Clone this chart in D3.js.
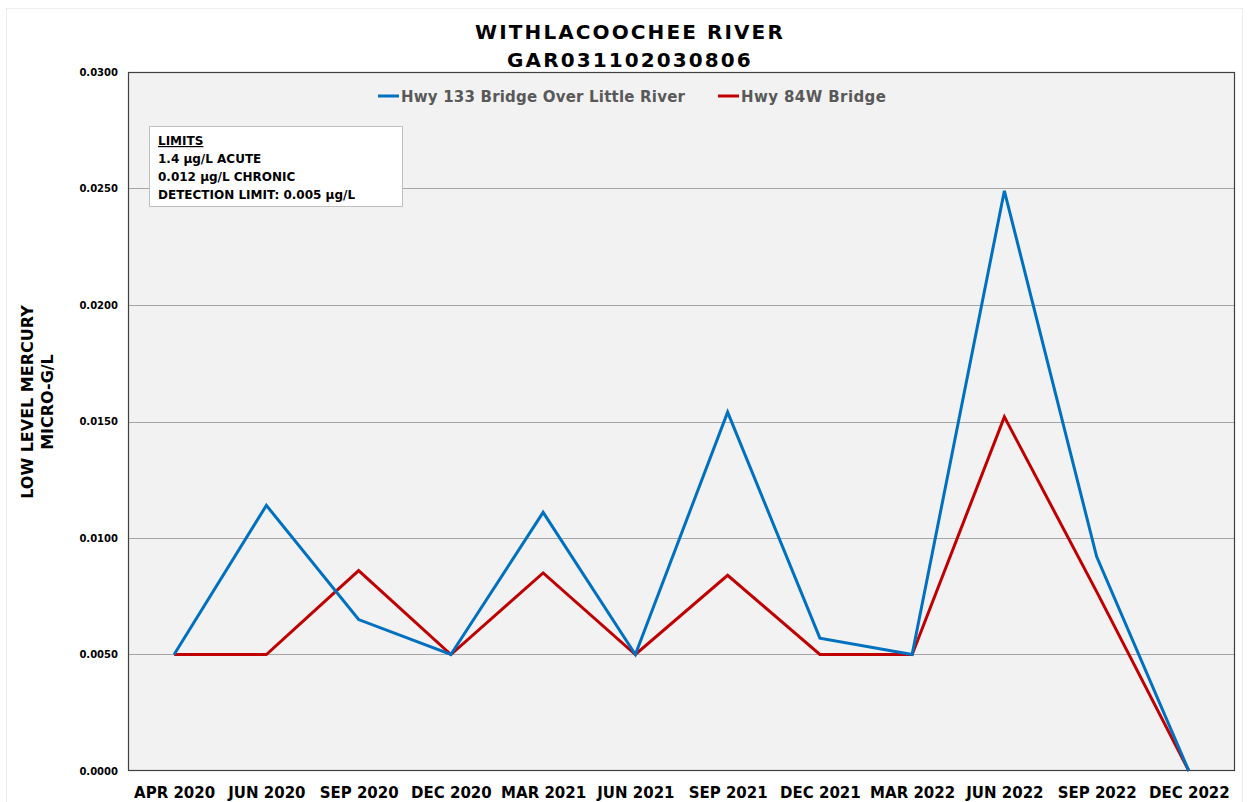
<!DOCTYPE html>
<html>
<head>
<meta charset="utf-8">
<script src="https://cdn.jsdelivr.net/npm/d3@7"></script>
<style>
  body { margin: 0; background: #fff; }
  svg { display: block; font-family: "DejaVu Sans", sans-serif; }
</style>
</head>
<body>
<svg id="chart" width="1249" height="802"></svg>
<script>
const categories = ["APR 2020","JUN 2020","SEP 2020","DEC 2020","MAR 2021","JUN 2021","SEP 2021","DEC 2021","MAR 2022","JUN 2022","SEP 2022","DEC 2022"];
const hwy133 = [0.0050, 0.0114, 0.0065, 0.0050, 0.0111, 0.0050, 0.0154, 0.0057, 0.0050, 0.0249, 0.0092, 0.0000];
const hwy84W = [0.0050, 0.0050, 0.0086, 0.0050, 0.0085, 0.0050, 0.0084, 0.0050, 0.0050, 0.0152, 0.0077, 0.0000];
const yTicks = [0, 0.005, 0.010, 0.015, 0.020, 0.025, 0.030];
const seriesNames = ["Hwy 133 Bridge Over Little River", "Hwy 84W Bridge"];
const titleLines = ["WITHLACOOCHEE RIVER", "GAR031102030806"];
const yTitleLines = ["LOW LEVEL MERCURY", "MICRO-G/L"];
const limitsLines = ["LIMITS", "1.4 µg/L ACUTE", "0.012 µg/L CHRONIC", "DETECTION LIMIT: 0.005 µg/L"];

const colors = ["#0070C0", "#C00000"];
const FONT = "'DejaVu Sans', sans-serif";
const svg = d3.select("#chart");
const m = {left: 128, right: 1235, top: 72, bottom: 771};

// outer faint border
svg.append("rect").attr("x", 6.5).attr("y", 8.5).attr("width", 1236).attr("height", 800)
  .attr("fill", "#fff").attr("stroke", "#ececec");

const x = d3.scalePoint().domain(categories).range([m.left, m.right]).padding(0.5);
const y = d3.scaleLinear().domain([0, 0.03]).range([m.bottom, m.top]);

// plot area
svg.append("rect").attr("x", m.left).attr("y", m.top)
  .attr("width", m.right - m.left).attr("height", m.bottom - m.top)
  .attr("fill", "#f2f2f2");

// gridlines
svg.append("g").selectAll("line").data(yTicks.filter(d => d > 0 && d < 0.03)).join("line")
  .attr("x1", m.left).attr("x2", m.right)
  .attr("y1", d => Math.round(y(d)) + 0.5).attr("y2", d => Math.round(y(d)) + 0.5)
  .attr("stroke", "#a6a6a6").attr("stroke-width", 1);

// border
svg.append("rect").attr("x", m.left + 0.5).attr("y", m.top + 0.5)
  .attr("width", m.right - m.left - 1).attr("height", m.bottom - m.top - 1)
  .attr("fill", "none").attr("stroke", "#404040").attr("stroke-width", 1.2);

// y axis
const yAxis = d3.axisLeft(y).tickValues(yTicks).tickFormat(d3.format(".4f")).tickSize(0).tickPadding(10);
const gy = svg.append("g").attr("transform", `translate(${m.left},0)`).call(yAxis);
gy.select(".domain").remove();
gy.selectAll("text").attr("font-size", 10).attr("font-weight", "bold").attr("fill", "#000")
  .attr("font-family", FONT);

// x axis
const xAxis = d3.axisBottom(x).tickSize(0).tickPadding(16);
const gx = svg.append("g").attr("transform", `translate(0,${m.bottom})`).call(xAxis);
gx.select(".domain").remove();
gx.selectAll("text").attr("font-size", 15).attr("font-weight", "bold").attr("fill", "#000")
  .attr("font-family", FONT);

// lines
const line = d3.line().x((d, i) => x(categories[i])).y(d => y(d));
[hwy84W, hwy133].forEach((s, k) => {
  svg.append("path").datum(s).attr("d", line)
    .attr("fill", "none").attr("stroke", k === 0 ? colors[1] : colors[0])
    .attr("stroke-width", 3).attr("stroke-linejoin", "miter");
});

// title
svg.append("g").selectAll("text").data(titleLines).join("text")
  .attr("x", 630).attr("y", (d, i) => 39 + i * 28)
  .attr("text-anchor", "middle").attr("font-size", 20).attr("font-weight", "bold")
  .attr("letter-spacing", 2.1).attr("fill", "#000").text(d => d);

// legend
const legendX = [378, 718];
const lg = svg.append("g");
seriesNames.forEach((n, i) => {
  lg.append("line").attr("x1", legendX[i]).attr("x2", legendX[i] + 21)
    .attr("y1", 96).attr("y2", 96).attr("stroke", colors[i]).attr("stroke-width", 3);
  lg.append("text").attr("x", legendX[i] + 23).attr("y", 101.5)
    .attr("font-size", 15).attr("font-weight", "bold").attr("letter-spacing", i === 0 ? 0.2 : 0.4)
    .attr("fill", "#595959").text(n);
});

// limits box
const lb = svg.append("g");
lb.append("rect").attr("x", 149.5).attr("y", 126.5).attr("width", 253).attr("height", 80)
  .attr("fill", "#fff").attr("stroke", "#bfbfbf");
limitsLines.forEach((t, i) => {
  lb.append("text").attr("x", 158).attr("y", 145 + i * 18)
    .attr("font-size", 12).attr("font-weight", "bold").attr("fill", "#000")
    .attr("text-decoration", i === 0 ? "underline" : null).text(t);
});

// y title
svg.append("g").attr("transform", "translate(33,402) rotate(-90)")
  .selectAll("text").data(yTitleLines).join("text")
  .attr("x", 0).attr("y", (d, i) => i * 20)
  .attr("text-anchor", "middle").attr("font-size", 16).attr("font-weight", "bold")
  .attr("fill", "#000").text(d => d);
</script>
</body>
</html>
